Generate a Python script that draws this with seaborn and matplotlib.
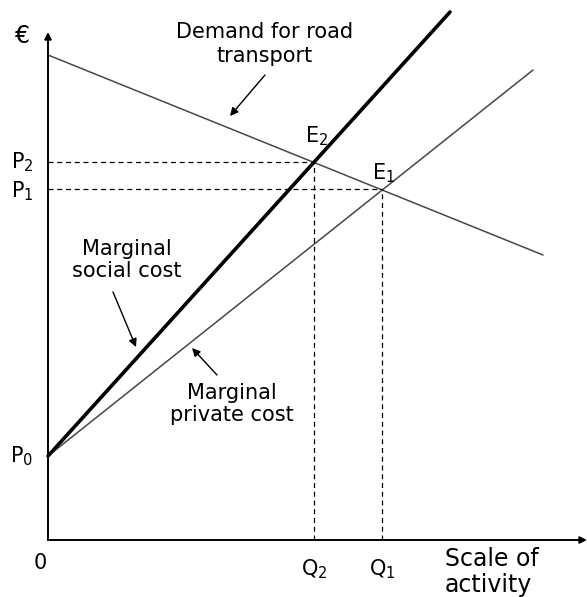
"""
Road transport externality diagram: demand vs marginal private / social cost.
"""

import matplotlib
matplotlib.use('Agg')
import matplotlib.pyplot as plt
import pandas as pd
import seaborn as sns

# quantity / price values (arbitrary units)
demand_q = [0, 99.0]
demand_p = [97.0, 57.0]
msc_q = [0, 80.4]
msc_p = [16.8, 105.6]
mpc_q = [0, 97.0]
mpc_p = [16.8, 94.0]

eq_names = ["E2", "E1"]
eq_q = [53.2, 66.8]
eq_p = [75.6, 70.2]
p0 = 16.8

x_max = 107.8
y_max = 101.6

sns.set_style("white")
plt.rcParams['font.family'] = ['DejaVu Sans']
plt.rcParams['text.color'] = 'black'

fig = plt.figure(figsize=(5.87, 5.97), dpi=100)
ax = fig.add_axes([0, 0, 1, 1])
ax.set_xlim(-9.6, 107.8)
ax.set_ylim(-11.4, 108.0)
ax.axis('off')

lines = pd.concat([
    pd.DataFrame({"q": demand_q, "p": demand_p, "curve": "demand"}),
    pd.DataFrame({"q": mpc_q, "p": mpc_p, "curve": "mpc"}),
])
sns.lineplot(data=lines, x="q", y="p", units="curve", estimator=None,
             color="#474747", lw=1.1, ax=ax, legend=False)
sns.lineplot(x=msc_q, y=msc_p, color="black", lw=2.6, ax=ax)

# axes with arrow heads
ax.annotate("", xy=(x_max, 0), xytext=(0, 0),
            arrowprops=dict(arrowstyle="-|>", color="black", lw=1.4,
                            mutation_scale=10, shrinkA=0, shrinkB=0))
ax.annotate("", xy=(0, y_max), xytext=(0, 0),
            arrowprops=dict(arrowstyle="-|>", color="black", lw=1.4,
                            mutation_scale=10, shrinkA=0, shrinkB=0))

# dashed guides from equilibria
for q, p in zip(eq_q, eq_p):
    ax.plot([0, q], [p, p], ls=(0, (4, 3)), color="black", lw=0.9)
    ax.plot([q, q], [0, p], ls=(0, (4, 3)), color="black", lw=0.9)

fs = 15
ax.text(-5.0, 100.8, "€", fontsize=fs + 2, ha="center", va="center")
ax.text(-5.2, p0, r"P$_0$", fontsize=fs, ha="center", va="center")
ax.text(-5.2, eq_p[0], r"P$_2$", fontsize=fs, ha="center", va="center")
ax.text(-5.2, eq_p[1] - 0.4, r"P$_1$", fontsize=fs, ha="center", va="center")
ax.text(-1.6, -4.6, "0", fontsize=fs, ha="center", va="center")
ax.text(eq_q[0], -5.8, r"Q$_2$", fontsize=fs, ha="center", va="center")
ax.text(eq_q[1], -5.8, r"Q$_1$", fontsize=fs, ha="center", va="center")
ax.text(eq_q[0] + 0.6, eq_p[0] + 5.2, r"E$_2$", fontsize=fs, ha="center", va="center")
ax.text(eq_q[1] + 0.4, eq_p[1] + 3.2, r"E$_1$", fontsize=fs, ha="center", va="center")

ax.text(79.4, -6.4, "Scale of\nactivity", fontsize=fs + 2, ha="left", va="center",
        linespacing=1.1)
ax.text(43.4, 99.2, "Demand for road\ntransport", fontsize=fs, ha="center",
        va="center", linespacing=1.2)
ax.text(15.8, 56.0, "Marginal\nsocial cost", fontsize=fs, ha="center",
        va="center", linespacing=1.15)
ax.text(36.8, 27.2, "Marginal\nprivate cost", fontsize=fs, ha="center",
        va="center", linespacing=1.15)

arrow = dict(arrowstyle="-|>", color="black", lw=1.0, mutation_scale=12,
             shrinkA=0, shrinkB=0)
ax.annotate("", xy=(36.4, 84.8), xytext=(43.4, 93.0), arrowprops=arrow)
ax.annotate("", xy=(17.6, 38.6), xytext=(13.0, 49.6), arrowprops=arrow)
ax.annotate("", xy=(28.8, 38.4), xytext=(33.8, 33.0), arrowprops=arrow)

plt.savefig("out.png", dpi=100)
plt.close()
